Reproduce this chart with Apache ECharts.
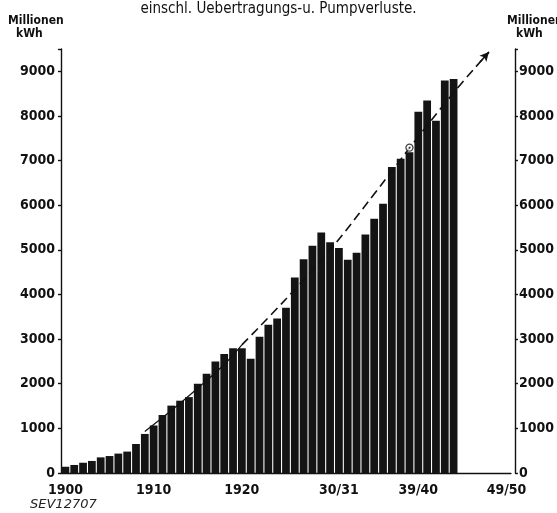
<!DOCTYPE html>
<html><head><meta charset="utf-8">
<script src="https://cdn.jsdelivr.net/npm/echarts@6/dist/echarts.min.js"></script>
<style>html,body{margin:0;padding:0;background:#fff}#c{width:557px;height:513px}</style>
</head><body><div id="c"></div>
<script>
const categories = ['1900','1901','1902','1903','1904','1905','1906','1907','1908','1909',
  '1910','1911','1912','1913','1914','1915','1916','1917','1918','1919',
  '1920','1921','1922','1923','1924','1925','1926','1927','1928','1929','1930',
  '30/31','31/32','32/33','33/34','34/35','35/36','36/37','37/38','38/39',
  '39/40','40/41','41/42','42/43','43/44','44/45','45/46','46/47','47/48','48/49','49/50'];
const production = [140,180,230,270,350,380,435,480,650,875,
  1065,1300,1510,1620,1700,2000,2225,2500,2665,2795,
  2795,2560,3055,3320,3460,3705,4380,4790,5090,5390,5170,
  5040,4780,4935,5345,5695,6030,6855,7040,7185,
  8095,8345,7895,8795,8830];
const tickLabels = ['1900','1910','1920','30/31','39/40','49/50'];
const yTicks = [0,1000,2000,3000,4000,5000,6000,7000,8000,9000];
const trendSolid = [[9,930],[12,1400],[15,1900],[18,2430],[20,2870]];
const trendDashed = [[20,2870],[25,3900],[30,5000],[35,6250],[39,7280],[44,8520],[48,9430]];
const trendPoint = [[39,7290]];

const FONT = "'DejaVu Sans Condensed','Liberation Sans Narrow','DejaVu Sans',sans-serif";
const chart = echarts.init(document.getElementById('c'));
const yAxisBase = {
  type: 'value', min: 0, max: 9500, interval: 1000,
  splitLine: {show: false},
  axisLine: {show: true, lineStyle: {color: '#111', width: 1.4}},
  axisTick: {show: true, length: 3, lineStyle: {color: '#111', width: 1.4}},
  axisLabel: {
    color: '#111', fontSize: 14, fontWeight: 'bold', fontFamily: FONT, margin: 6,
    padding: [0, 0, 5, 0],
    formatter: v => yTicks.includes(v) ? String(v) : ''
  }
};
chart.setOption({
  animation: false,
  backgroundColor: '#fff',
  title: {
    text: 'einschl. Uebertragungs-u. Pumpverluste.',
    left: 'center', top: -3,
    textStyle: {color: '#111', fontSize: 15, fontWeight: 'normal', fontFamily: FONT}
  },
  grid: {left: 61, right: 46, top: 49, bottom: 40},
  xAxis: {
    type: 'category', data: categories,
    axisLine: {lineStyle: {color: '#111', width: 1.4}},
    axisTick: {alignWithLabel: true, length: 4, lineStyle: {color: '#111', width: 1.4},
      interval: (i, v) => tickLabels.includes(v)},
    axisLabel: {color: '#111', fontSize: 14, fontWeight: 'bold', fontFamily: FONT, margin: 10,
      interval: (i, v) => tickLabels.includes(v)}
  },
  yAxis: [
    Object.assign({}, yAxisBase, {position: 'left'}),
    Object.assign({}, yAxisBase, {position: 'right', offset: 4,
      axisLabel: Object.assign({}, yAxisBase.axisLabel, {margin: 4})})
  ],
  series: [
    {type: 'bar', data: production, barCategoryGap: '12%',
      itemStyle: {color: '#141414'}},
    {type: 'line', data: trendSolid, smooth: 0.4, symbol: 'none',
      lineStyle: {color: '#111', width: 1.2}, z: 5},
    {type: 'line', data: trendDashed, smooth: 0.4, symbol: 'none',
      lineStyle: {color: '#111', width: 1.6, type: [9, 5]}, z: 5,
      markLine: {
        silent: true, symbol: ['none', 'arrow'], symbolSize: [7, 9],
        label: {show: false},
        lineStyle: {color: '#111', width: 1.6, type: 'solid'},
        data: [[{coord: [categories[47], 9210]}, {coord: [categories[48], 9430]}]]
      }},
    {type: 'scatter', data: trendPoint, symbol: 'circle', symbolSize: 7,
      itemStyle: {color: '#fff', borderColor: '#111', borderWidth: 1.3}, z: 6},
    {type: 'scatter', data: trendPoint, symbol: 'circle', symbolSize: 2,
      itemStyle: {color: '#111'}, z: 7}
  ],
  graphic: [
    {type: 'text', left: 8, top: 15, style: {text: 'Millionen', fill: '#111', font: "bold 12px " + FONT}},
    {type: 'text', left: 16, top: 28, style: {text: 'kWh', fill: '#111', font: "bold 12px " + FONT}},
    {type: 'text', left: 507, top: 15, style: {text: 'Millionen', fill: '#111', font: "bold 12px " + FONT}},
    {type: 'text', left: 516, top: 28, style: {text: 'kWh', fill: '#111', font: "bold 12px " + FONT}},
    {type: 'text', left: 30, top: 498, style: {text: 'SEV12707', fill: '#222', font: "italic 13px 'DejaVu Sans',sans-serif"}}
  ]
});
</script></body></html>
